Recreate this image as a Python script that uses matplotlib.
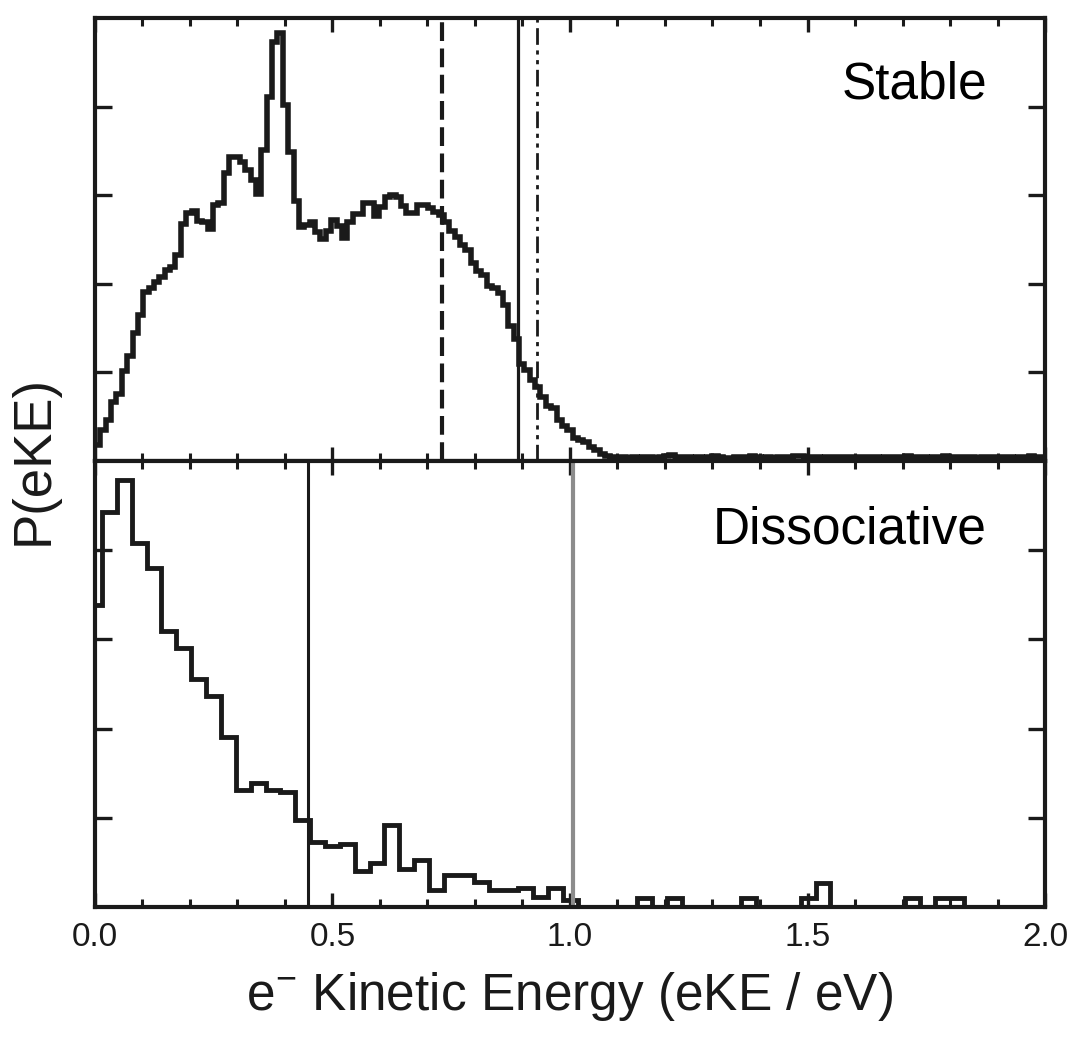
import numpy as np
import matplotlib
matplotlib.use("Agg")
import matplotlib.pyplot as plt

plt.rcParams['font.family'] = ['Liberation Sans', 'DejaVu Sans']
plt.rcParams['mathtext.fontset'] = 'custom'
plt.rcParams['mathtext.rm'] = 'Liberation Sans'

# stable anion: photoelectron spectrum, bins of 0.0113 eV starting at 0
stable_bin_width = 0.0113
stable_counts = [
    0.18, 0.35, 0.46, 0.67, 0.76, 1.01, 1.18, 1.44, 1.65, 1.91,
    1.95, 2.02, 2.08, 2.16, 2.19, 2.33, 2.67, 2.80, 2.82, 2.71,
    2.70, 2.62, 2.89, 2.91, 3.25, 3.43, 3.43, 3.38, 3.28, 3.17,
    3.01, 3.51, 4.11, 4.73, 4.83, 4.02, 3.49, 2.93, 2.64, 2.66,
    2.70, 2.58, 2.51, 2.59, 2.72, 2.65, 2.52, 2.70, 2.79, 2.79,
    2.91, 2.91, 2.77, 2.87, 2.98, 3.00, 2.98, 2.88, 2.80, 2.80,
    2.89, 2.89, 2.85, 2.81, 2.78, 2.70, 2.60, 2.53, 2.44, 2.38,
    2.23, 2.14, 2.10, 1.97, 1.95, 1.90, 1.76, 1.52, 1.38, 1.10,
    1.03, 0.91, 0.84, 0.72, 0.62, 0.60, 0.46, 0.40, 0.35, 0.26,
    0.24, 0.21, 0.16, 0.12, 0.08, 0.06, 0.05, 0.04, 0.04, 0.03,
    0.04, 0.03, 0.04, 0.04, 0.03, 0.04, 0.06, 0.07, 0.05, 0.04,
    0.04, 0.03, 0.04, 0.03, 0.05, 0.06, 0.04, 0.03, 0.03, 0.04,
    0.04, 0.05, 0.06, 0.04, 0.03, 0.04, 0.03, 0.04, 0.04, 0.05,
    0.06, 0.06, 0.05, 0.04, 0.04, 0.03, 0.04, 0.04, 0.05, 0.04,
    0.04, 0.03, 0.04, 0.05, 0.04, 0.04, 0.03, 0.04, 0.04, 0.05,
    0.05, 0.06, 0.05, 0.04, 0.04, 0.03, 0.04, 0.05, 0.06, 0.05,
    0.04, 0.04, 0.05, 0.04, 0.03, 0.04, 0.04, 0.05, 0.05, 0.04,
    0.04, 0.03, 0.04, 0.05, 0.06, 0.05, 0.04,
]
stable_dashed = 0.73
stable_solid = 0.891
stable_dashdot = 0.93

# dissociative anion: bins of 0.0313 eV
diss_bin_start = -0.0166
diss_bin_width = 0.0313
diss_counts = [
    3.39, 4.43, 4.79, 4.08, 3.80, 3.09, 2.90, 2.56, 2.36, 1.91,
    1.31, 1.39, 1.31, 1.29, 0.975, 0.73, 0.68, 0.71, 0.40, 0.49,
    0.92, 0.43, 0.53, 0.19, 0.36, 0.36, 0.28, 0.19, 0.19, 0.21,
    0.115, 0.21, 0.08, 0, 0, 0, 0, 0.1, 0, 0.1,
    0, 0, 0, 0, 0.1, 0, 0, 0, 0.1, 0.27,
    0, 0, 0, 0, 0, 0.1, 0, 0.1, 0.1, 0,
    0, 0, 0, 0, 0,
]
diss_solid = 0.449
diss_grey = 1.006

xticks = [0.0, 0.5, 1.0, 1.5, 2.0]
xticklabels = ["0.0", "0.5", "1.0", "1.5", "2.0"]

fig = plt.figure(figsize=(10.78, 10.51), dpi=100)
ax1 = fig.add_axes([0.0881, 0.5614, 0.8813, 0.4215])
ax2 = fig.add_axes([0.0881, 0.1370, 0.8813, 0.4244])

stable_edges = np.arange(len(stable_counts) + 1) * stable_bin_width
diss_edges = diss_bin_start + np.arange(len(diss_counts) + 1) * diss_bin_width

ax1.axvline(stable_dashed, color='#1a1a1a', lw=3.0, ls=(0, (4.5, 1.8)))
ax1.axvline(stable_solid, color='#1a1a1a', lw=2.3)
ax1.axvline(stable_dashdot, color='#1a1a1a', lw=2.0, ls=(0, (6, 2, 1.5, 2, 1.5, 2)))
ax1.stairs(stable_counts, stable_edges, color='#1a1a1a', lw=4.0, baseline=None)

ax2.axvline(diss_solid, color='#1a1a1a', lw=2.2)
ax2.axvline(diss_grey, color='#8c8c8c', lw=3.0)
ax2.stairs(diss_counts, diss_edges, color='#1a1a1a', lw=3.5, baseline=None)

ax1.text(0.939, 0.819, "Stable", transform=ax1.transAxes, ha='right',
         va='baseline', fontsize=37)
ax2.text(0.939, 0.816, "Dissociative", transform=ax2.transAxes, ha='right',
         va='baseline', fontsize=37)

for ax in (ax1, ax2):
    ax.set_xlim(0, 2.0)
    ax.set_ylim(0, 5)
    ax.set_yticks([1, 2, 3, 4])
    ax.set_yticklabels([])
    ax.set_xticks(xticks)
    ax.set_xticks(np.arange(0.1, 2.0, 0.1), minor=True)
    ax.tick_params(axis='x', which='major', direction='in', length=10, width=2.4,
                   top=True, bottom=True, color='#1a1a1a')
    ax.tick_params(axis='x', which='minor', direction='in', length=5.5, width=2.2,
                   top=True, bottom=True, color='#1a1a1a')
    ax.tick_params(axis='y', which='major', direction='in', length=12.5, width=2.4,
                   left=True, right=True, color='#1a1a1a')
    for s in ax.spines.values():
        s.set_linewidth(3.0)
        s.set_color('#1a1a1a')

ax1.set_xticklabels([])
ax2.set_xticklabels(xticklabels)
ax2.tick_params(axis='x', which='major', labelsize=24, pad=11, labelcolor='#1a1a1a')
ax2.set_xlabel(r"e$^{\mathrm{-}}$ Kinetic Energy (eKE / eV)", fontsize=37,
               labelpad=12, color='#1a1a1a')

fig.text(0.031, 0.5623, "P(eKE)", rotation=90, ha='center', va='center',
         fontsize=38, color='#1a1a1a')

fig.savefig("out.png", dpi=100)
